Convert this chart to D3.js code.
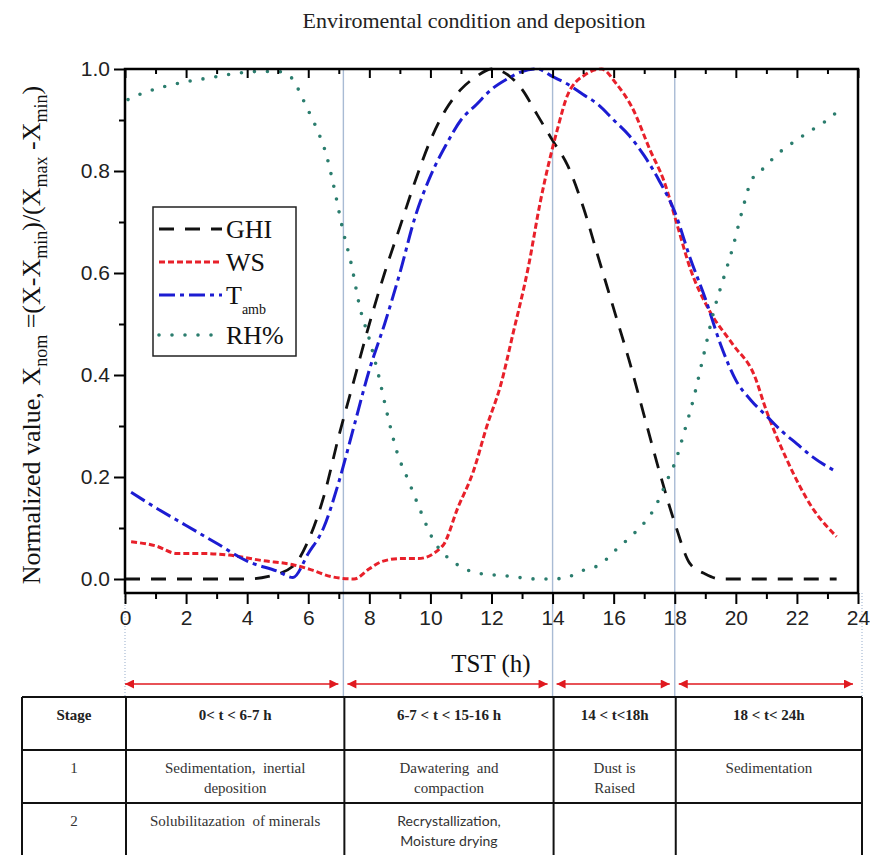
<!DOCTYPE html>
<html>
<head>
<meta charset="utf-8">
<script src="https://cdn.jsdelivr.net/npm/d3@7"></script>
<style>
  body { margin: 0; background: #fff; }
  svg { display: block; }
</style>
</head>
<body>
<svg id="chart" width="870" height="855"></svg>
<script>
// hours (TST) and normalized values
const ghiHours = [0, 1, 2, 3, 4, 4.7, 5.5, 6, 6.5, 7, 7.5, 8, 8.5, 9, 9.5, 10, 10.5, 11, 11.5, 12, 12.5, 13, 13.5, 14, 14.5, 15, 15.5, 16, 16.5, 17, 17.5, 18, 18.5, 19, 19.5, 20, 21, 22, 23.3];
const ghiValues = [0, 0, 0, 0, 0, 0.005, 0.025, 0.075, 0.16, 0.28, 0.39, 0.5, 0.6, 0.69, 0.78, 0.86, 0.92, 0.96, 0.985, 1.0, 0.99, 0.96, 0.91, 0.86, 0.81, 0.73, 0.63, 0.53, 0.43, 0.32, 0.21, 0.11, 0.03, 0.01, 0, 0, 0, 0, 0];

const wsHours = [0.2, 1, 1.7, 2.5, 3.4, 4.5, 5.5, 6.1, 6.8, 7.5, 8, 8.4, 9, 9.6, 10.4, 10.9, 11.4, 11.85, 12.3, 12.7, 13.2, 13.6, 14.15, 14.5, 15.1, 15.6, 16.1, 16.6, 17.2, 17.65, 18.1, 18.5, 19.1, 19.9, 20.6, 21, 21.7, 22.5, 23.3];
const wsValues = [0.073, 0.065, 0.05, 0.05, 0.047, 0.036, 0.028, 0.018, 0.004, 0, 0.02, 0.034, 0.04, 0.04, 0.065, 0.14, 0.21, 0.3, 0.38, 0.48, 0.61, 0.74, 0.88, 0.95, 0.99, 1.0, 0.97, 0.925, 0.84, 0.78, 0.69, 0.61, 0.53, 0.46, 0.4, 0.33, 0.23, 0.14, 0.083];

const tambHours = [0.2, 1, 2, 3, 4, 5, 5.5, 6, 6.5, 7, 7.5, 8, 8.5, 9, 9.5, 10, 10.5, 11, 11.5, 12, 12.5, 13, 13.5, 14, 14.5, 15, 15.5, 16, 16.5, 17, 17.5, 18, 18.5, 19, 19.5, 20, 20.5, 21, 21.5, 22, 22.5, 23.3];
const tambValues = [0.17, 0.14, 0.105, 0.07, 0.035, 0.015, 0.003, 0.05, 0.1, 0.19, 0.3, 0.41, 0.5, 0.6, 0.71, 0.79, 0.85, 0.9, 0.93, 0.96, 0.98, 0.995, 1.0, 0.985, 0.97, 0.95, 0.93, 0.9, 0.87, 0.83, 0.78, 0.72, 0.63, 0.55, 0.46, 0.39, 0.35, 0.32, 0.29, 0.265, 0.24, 0.21];

const rhHours = [0.1, 0.6, 1.25, 2, 2.7, 3.5, 4.3, 5, 5.5, 5.75, 6.07, 6.3, 6.6, 6.8, 7.15, 7.4, 7.7, 8, 8.3, 8.6, 8.9, 9.3, 9.7, 10.1, 10.55, 11, 11.5, 12.5, 13.5, 14, 14.5, 15, 15.6, 16, 16.5, 17, 17.3, 17.8, 18, 18.3, 18.6, 18.95, 19.3, 19.6, 19.9, 20.2, 20.5, 20.9, 21.4, 21.9, 22.4, 22.9, 23.4];
const rhValues = [0.94, 0.953, 0.965, 0.975, 0.982, 0.99, 0.995, 0.995, 0.98, 0.95, 0.91, 0.88, 0.83, 0.78, 0.68, 0.62, 0.53, 0.47, 0.4, 0.32, 0.25, 0.19, 0.13, 0.076, 0.043, 0.024, 0.012, 0.006, 0, 0, 0.004, 0.017, 0.03, 0.053, 0.08, 0.11, 0.135, 0.2, 0.227, 0.286, 0.35, 0.44, 0.53, 0.59, 0.65, 0.72, 0.78, 0.805, 0.835, 0.857, 0.877, 0.896, 0.92];

const xTicks = [0, 2, 4, 6, 8, 10, 12, 14, 16, 18, 20, 22, 24];
const yTicks = [0, 0.2, 0.4, 0.6, 0.8, 1.0];
const stageBounds = [0, 7.15, 14, 18, 24];

const tableHeader = ['Stage', '0< t < 6-7 h', '6-7 < t < 15-16 h', '14 < t<18h', '18 < t< 24h'];
const tableRow1 = [['1'], ['Sedimentation,  inertial', 'deposition'], ['Dawatering  and', 'compaction'], ['Dust is', 'Raised'], ['Sedimentation']];
const tableRow2 = [['2'], ['Solubilitazation  of minerals'], ['Recrystallization,', 'Moisture drying'], [], []];

const series = [
  { name: 'GHI', hours: ghiHours, values: ghiValues, color: '#111111', dash: '15,11', width: 2.8, cap: 'butt' },
  { name: 'WS', hours: wsHours, values: wsValues, color: '#e8202a', dash: '6,3', width: 3, cap: 'butt' },
  { name: 'Tamb', hours: tambHours, values: tambValues, color: '#1c1cd2', dash: '16,5,4,5', width: 3, cap: 'butt' },
  { name: 'RH%', hours: rhHours, values: rhValues, color: '#2b7d6e', dash: '0,13', width: 3.6, cap: 'round' },
];

const svg = d3.select('#chart');
const serif = '"Liberation Serif", serif';
const sans = '"Liberation Sans", Arial, sans-serif';

const x = d3.scaleLinear().domain([0, 24]).range([125, 858]);
const y = d3.scaleLinear().domain([0, 1]).range([579, 69]);
const plotTop = y(1);
const plotBottom = 593;
const tableTop = 697;

// title
svg.append('text')
  .attr('x', 474).attr('y', 28)
  .attr('text-anchor', 'middle')
  .style('font-family', serif).attr('font-size', 22)
  .attr('fill', '#222')
  .text('Enviromental condition and deposition');

// stage separators
svg.append('g')
  .selectAll('line')
  .data(stageBounds.slice(1, -1))
  .join('line')
  .attr('x1', (d) => x(d)).attr('x2', (d) => x(d))
  .attr('y1', plotTop).attr('y2', tableTop)
  .attr('stroke', '#a9bbd4').attr('stroke-width', 1.4);

svg.append('g')
  .selectAll('line')
  .data([stageBounds[0], stageBounds[stageBounds.length - 1]])
  .join('line')
  .attr('x1', (d, i) => x(d) + i * 4).attr('x2', (d, i) => x(d) + i * 4)
  .attr('y1', plotBottom).attr('y2', tableTop)
  .attr('stroke', '#a9bbd4').attr('stroke-width', 1.2)
  .attr('stroke-dasharray', '1,2');

// curves
const line = d3.line()
  .x((d) => x(d[0]))
  .y((d) => y(d[1]))
  .curve(d3.curveMonotoneX);

svg.append('g')
  .selectAll('path')
  .data(series)
  .join('path')
  .attr('d', (s) => line(s.hours.map((h, i) => [h, s.values[i]])))
  .attr('fill', 'none')
  .attr('stroke', (s) => s.color)
  .attr('stroke-width', (s) => s.width)
  .attr('stroke-dasharray', (s) => s.dash)
  .attr('stroke-linecap', (s) => s.cap);

// frame and axes
svg.append('rect')
  .attr('x', x(0)).attr('y', plotTop)
  .attr('width', x(24) - x(0)).attr('height', plotBottom - plotTop)
  .attr('fill', 'none').attr('stroke', '#000').attr('stroke-width', 2.5);

const minorY = d3.range(0.1, 1, 0.2);
const minorX = d3.range(1, 24, 2);

svg.append('g')
  .attr('transform', `translate(${x(0)},0)`)
  .call(d3.axisLeft(y).tickValues(yTicks).tickFormat(d3.format('.1f')).tickSize(11).tickPadding(4));
svg.append('g')
  .attr('transform', `translate(${x(0)},0)`)
  .call(d3.axisLeft(y).tickValues(minorY).tickFormat('').tickSize(6));

svg.append('g')
  .attr('transform', `translate(0,${plotBottom})`)
  .call(d3.axisBottom(x).tickValues(xTicks).tickFormat(d3.format('d')).tickSize(11).tickPadding(6));
svg.append('g')
  .attr('transform', `translate(0,${plotBottom})`)
  .call(d3.axisBottom(x).tickValues(minorX).tickFormat('').tickSize(6));

// top ticks pointing inward
svg.append('g')
  .attr('transform', `translate(0,${plotTop})`)
  .call(d3.axisTop(x).tickValues(xTicks).tickFormat('').tickSize(-9));
svg.append('g')
  .attr('transform', `translate(0,${plotTop})`)
  .call(d3.axisTop(x).tickValues(minorX).tickFormat('').tickSize(-5));

svg.selectAll('.domain').remove();
svg.selectAll('.tick line').attr('stroke', '#000').attr('stroke-width', 2);
svg.selectAll('.tick text')
  .style('font-family', sans).attr('font-size', 21).attr('fill', '#222');

// axis titles
svg.append('text')
  .attr('x', 491).attr('y', 672)
  .attr('text-anchor', 'middle')
  .style('font-family', serif).attr('font-size', 25)
  .attr('fill', '#111')
  .text('TST (h)');

const yLabel = svg.append('text')
  .attr('transform', `translate(40,${(plotTop + plotBottom) / 2 + 4}) rotate(-90)`)
  .attr('text-anchor', 'middle')
  .style('font-family', serif).attr('font-size', 26)
  .attr('fill', '#111');
const yParts = [
  ['Normalized value, X', 0], ['nom', 1], [' =(X-X', 0], ['min', 1],
  [')/(X', 0], ['max', 1], [' -X', 0], ['min', 1], [')', 0],
];
let shifted = 0;
yParts.forEach(([txt, sub]) => {
  const dy = sub ? 7 - shifted : -shifted;
  shifted = sub ? 7 : 0;
  yLabel.append('tspan')
    .attr('dy', dy)
    .attr('font-size', sub ? 18 : 26)
    .style('white-space', 'pre')
    .text(txt);
});

// legend
const legend = svg.append('g');
legend.append('rect')
  .attr('x', 153).attr('y', 207).attr('width', 143).attr('height', 149)
  .attr('fill', '#fff').attr('stroke', '#222').attr('stroke-width', 1.5);
const legendY = [229, 262, 295, 335];
series.forEach((s, i) => {
  legend.append('line')
    .attr('x1', 159).attr('x2', 222)
    .attr('y1', legendY[i]).attr('y2', legendY[i])
    .attr('stroke', s.color).attr('stroke-width', s.width)
    .attr('stroke-dasharray', s.dash).attr('stroke-linecap', s.cap);
  const t = legend.append('text')
    .attr('x', 226).attr('y', legendY[i] + 9)
    .style('font-family', serif).attr('font-size', 26).attr('fill', '#111');
  if (s.name === 'Tamb') {
    t.append('tspan').text('T');
    t.append('tspan').attr('dy', 10).attr('font-size', 14).text('amb');
  } else {
    t.text(s.name);
  }
});

// stage arrows
const defs = svg.append('defs');
['start', 'end'].forEach((k) => {
  defs.append('marker')
    .attr('id', `arrow-${k}`)
    .attr('viewBox', '0 0 10 10')
    .attr('refX', k === 'end' ? 10 : 0).attr('refY', 5)
    .attr('markerWidth', 11).attr('markerHeight', 9)
    .attr('markerUnits', 'userSpaceOnUse')
    .attr('orient', 'auto')
    .append('path')
    .attr('d', k === 'end' ? 'M0,0L10,5L0,10Z' : 'M10,0L0,5L10,10Z')
    .attr('fill', '#e0191f');
});
const arrowY = 684;
svg.append('g')
  .selectAll('line')
  .data(d3.pairs(stageBounds))
  .join('line')
  .attr('x1', (d, i) => x(d[0]) + (i === 0 ? 0 : 4))
  .attr('x2', (d) => x(d[1]) - 5)
  .attr('y1', arrowY).attr('y2', arrowY)
  .attr('stroke', '#e0191f').attr('stroke-width', 1.3)
  .attr('marker-start', 'url(#arrow-start)')
  .attr('marker-end', 'url(#arrow-end)');

// table
const colEdges = [22, ...stageBounds.slice(0, -1).map((d) => x(d) + 1), 862];
const rowEdges = [tableTop, 750, 803, 857];
const table = svg.append('g');
table.selectAll('line.h')
  .data(rowEdges)
  .join('line')
  .attr('class', 'h')
  .attr('x1', colEdges[0]).attr('x2', colEdges[colEdges.length - 1])
  .attr('y1', (d) => d).attr('y2', (d) => d)
  .attr('stroke', '#111').attr('stroke-width', 2);
table.selectAll('line.v')
  .data(colEdges)
  .join('line')
  .attr('class', 'v')
  .attr('x1', (d) => d).attr('x2', (d) => d)
  .attr('y1', rowEdges[0]).attr('y2', rowEdges[rowEdges.length - 1])
  .attr('stroke', '#111').attr('stroke-width', 2);

const cellX = (i) => (colEdges[i] + colEdges[i + 1]) / 2;
tableHeader.forEach((txt, i) => {
  table.append('text')
    .attr('x', cellX(i)).attr('y', rowEdges[0] + 23)
    .attr('text-anchor', 'middle')
    .style('font-family', serif).attr('font-size', 15).attr('font-weight', 'bold')
    .attr('fill', '#222')
    .text(txt);
});
[tableRow1, tableRow2].forEach((row, r) => {
  row.forEach((lines, i) => {
    const isSans = r === 1 && i === 2;
    lines.forEach((txt, k) => {
      table.append('text')
        .attr('x', cellX(i)).attr('y', rowEdges[r + 1] + 23 + k * 20)
        .attr('text-anchor', 'middle')
        .style('font-family', isSans ? 'Lato, sans-serif' : serif)
        .attr('font-size', isSans ? 14 : 15)
        .attr('fill', '#333')
        .style('white-space', 'pre')
        .text(txt);
    });
  });
});
</script>
</body>
</html>
